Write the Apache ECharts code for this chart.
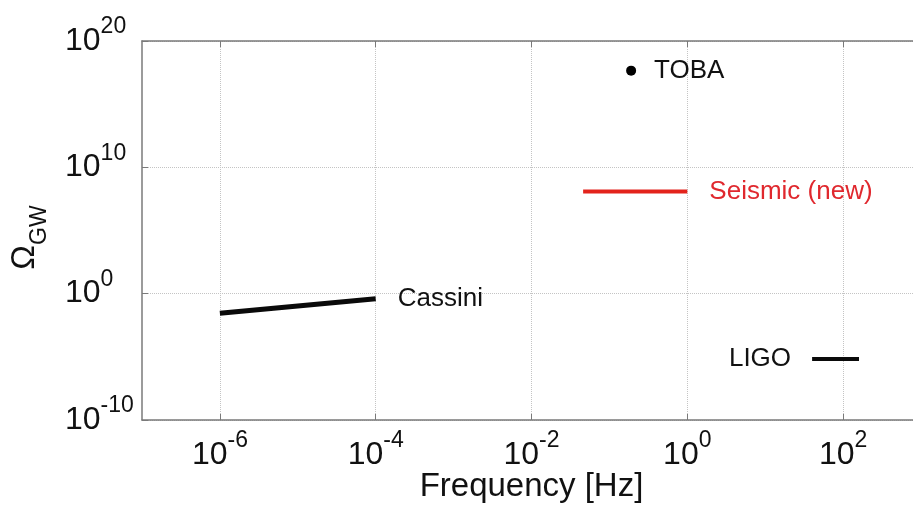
<!DOCTYPE html>
<html>
<head>
<meta charset="utf-8">
<script src="https://cdn.jsdelivr.net/npm/echarts@6/dist/echarts.min.js"></script>
<style>
html,body{margin:0;padding:0;background:#fff;}
#chart{width:913px;height:508px;}
</style>
</head>
<body>
<div id="chart"></div>
<script>
// ---- data ----
const xTickExps = [-6, -4, -2, 0, 2];
const yTickExps = [-10, 0, 10, 20];
const tobaFreq = [0.19];
const tobaOmega = [4.5e17];
const seismicFreq = [0.046, 1.0];
const seismicOmega = [1.2e8, 1.2e8];
const cassiniFreq = [1e-6, 1e-4];
const cassiniOmega = [0.028, 0.39];
const ligoFreq = [40, 160];
const ligoOmega = [6.8e-6, 6.8e-6];
const seriesNames = ['TOBA', 'Seismic (new)', 'Cassini', 'LIGO'];

const FONT = "'Liberation Sans', Arial, Helvetica, sans-serif";
const TXT = '#111111';
const xTickValues = xTickExps.map(e => Math.pow(10, e));

function pairs(xs, ys) { return xs.map((x, i) => [x, ys[i]]); }
function labelled(xs, ys, idx, label) {
  return xs.map((x, i) => i === idx ? { value: [x, ys[i]], label: label } : { value: [x, ys[i]], label: { show: false } });
}
function powFmt(list) {
  return function (v) {
    const e = Math.round(Math.log10(v));
    if (list.indexOf(e) < 0) return '';
    return '{b|10}{s|' + e + '}';
  };
}
const rich = {
  b: { fontSize: 32, lineHeight: 32, fontFamily: FONT, color: TXT },
  s: { fontSize: 23, lineHeight: 23, fontFamily: FONT, color: TXT, padding: [0, 0, 28, 0] }
};
const axisLineStyle = { color: '#7a7a7a', width: 1.5 };
const splitStyle = { color: '#c4c4c4', width: 1, type: 'dotted' };

const chart = echarts.init(document.getElementById('chart'), null, { renderer: 'canvas' });
chart.setOption({
  animation: false,
  backgroundColor: '#ffffff',
  grid: { left: 142, top: 41, width: 779, height: 379, show: false, containLabel: false, outerBoundsMode: 'none' },
  xAxis: [{
    type: 'log', logBase: 10, min: 1e-7, max: 1e3, position: 'bottom',
    axisLine: { show: true, lineStyle: axisLineStyle },
    axisTick: { show: true, inside: true, length: 6, customValues: xTickValues, lineStyle: { color: '#7a7a7a' } },
    splitLine: { show: true, lineStyle: splitStyle },
    minorTick: { show: false }, minorSplitLine: { show: false },
    axisLabel: { show: true, margin: 19, customValues: xTickValues, formatter: powFmt(xTickExps), rich: rich },
    name: 'Frequency [Hz]', nameLocation: 'middle', nameGap: 50, nameMoveOverlap: false,
    nameTextStyle: { fontSize: 33, fontFamily: FONT, color: TXT }
  }, {
    type: 'log', logBase: 10, min: 1e-7, max: 1e3, position: 'top',
    axisLine: { show: true, lineStyle: axisLineStyle },
    axisTick: { show: true, inside: true, length: 6, customValues: xTickValues, lineStyle: { color: '#7a7a7a' } },
    splitLine: { show: false }, axisLabel: { show: false }
  }],
  yAxis: [{
    type: 'log', logBase: 10, min: 1e-10, max: 1e20, splitNumber: 3, position: 'left',
    axisLine: { show: true, lineStyle: axisLineStyle },
    axisTick: { show: true, inside: true, length: 6, lineStyle: { color: '#7a7a7a' } },
    splitLine: { show: true, lineStyle: splitStyle },
    minorTick: { show: false }, minorSplitLine: { show: false },
    axisLabel: { show: true, margin: 77, align: 'left', formatter: powFmt(yTickExps), rich: rich, showMinLabel: true, showMaxLabel: true },
    name: '{o|Ω}{g|GW}', nameLocation: 'middle', nameRotate: 90, nameGap: 101, nameMoveOverlap: false,
    nameTextStyle: {
      rich: {
        o: { fontSize: 33, lineHeight: 33, fontFamily: FONT, color: TXT },
        g: { fontSize: 23, lineHeight: 23, fontFamily: FONT, color: TXT, padding: [31, 14, 0, 0] }
      }
    }
  }],
  series: [{
    name: seriesNames[0], type: 'scatter', xAxisIndex: 0, yAxisIndex: 0,
    symbol: 'circle', symbolSize: 10, itemStyle: { color: '#000', opacity: 1 },
    label: { show: true, position: 'right', distance: 18, formatter: 'TOBA', fontSize: 26, fontFamily: FONT, color: TXT, opacity: 1 },
    data: pairs(tobaFreq, tobaOmega)
  }, {
    name: seriesNames[1], type: 'line', xAxisIndex: 0, yAxisIndex: 0,
    symbol: 'circle', symbolSize: 0.1, showSymbol: true,
    lineStyle: { color: '#e3231c', width: 4 }, itemStyle: { color: '#e3231c' },
    data: labelled(seismicFreq, seismicOmega, seismicFreq.length - 1,
      { show: true, position: 'right', distance: 22, formatter: 'Seismic (new)', fontSize: 26, fontFamily: FONT, color: '#e0282e' })
  }, {
    name: seriesNames[2], type: 'line', xAxisIndex: 0, yAxisIndex: 0,
    symbol: 'circle', symbolSize: 0.1, showSymbol: true,
    lineStyle: { color: '#0a0a0a', width: 5 }, itemStyle: { color: '#0a0a0a' },
    data: labelled(cassiniFreq, cassiniOmega, cassiniFreq.length - 1,
      { show: true, position: 'right', distance: 22, formatter: 'Cassini', fontSize: 26, fontFamily: FONT, color: TXT })
  }, {
    name: seriesNames[3], type: 'line', xAxisIndex: 0, yAxisIndex: 0,
    symbol: 'circle', symbolSize: 0.1, showSymbol: true,
    lineStyle: { color: '#0a0a0a', width: 4 }, itemStyle: { color: '#0a0a0a' },
    data: labelled(ligoFreq, ligoOmega, 0,
      { show: true, position: 'left', distance: 21, formatter: 'LIGO', fontSize: 26, fontFamily: FONT, color: TXT })
  }]
});
</script>
</body>
</html>
